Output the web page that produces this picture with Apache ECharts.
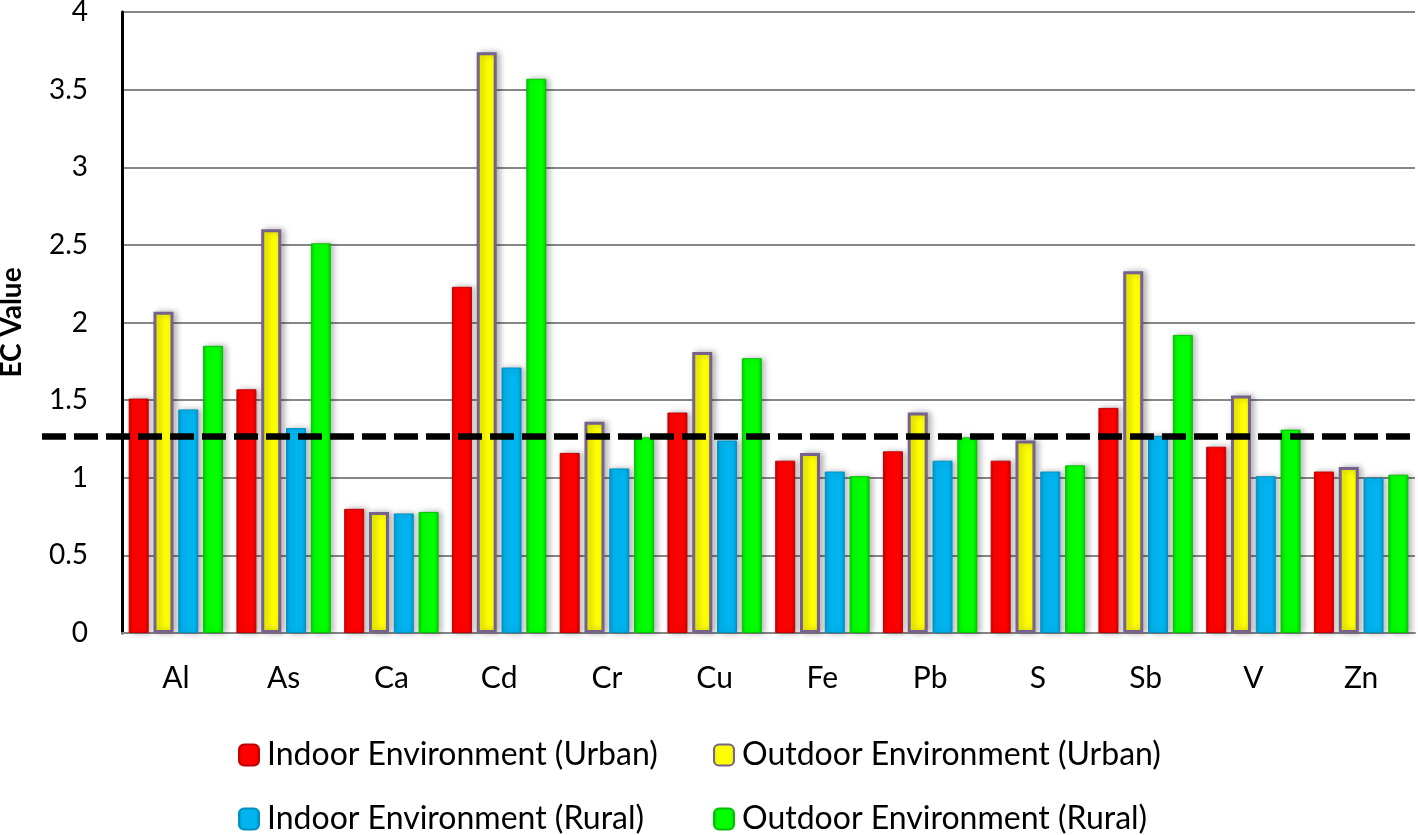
<!DOCTYPE html>
<html>
<head>
<meta charset="utf-8">
<script src="https://cdn.jsdelivr.net/npm/echarts@6/dist/echarts.min.js"></script>
<style>
html,body{margin:0;padding:0;background:#fff;}
#chart{width:1418px;height:835px;}
</style>
</head>
<body>
<div id="chart"></div>
<script>
const categories = ['Al','As','Ca','Cd','Cr','Cu','Fe','Pb','S','Sb','V','Zn'];
const indoorUrban  = [1.51, 1.57, 0.80, 2.23, 1.16, 1.42, 1.11, 1.17, 1.11, 1.45, 1.20, 1.04];
const outdoorUrban = [2.07, 2.60, 0.78, 3.74, 1.36, 1.81, 1.16, 1.42, 1.24, 2.33, 1.53, 1.07];
const indoorRural  = [1.44, 1.32, 0.77, 1.71, 1.06, 1.24, 1.04, 1.11, 1.04, 1.27, 1.01, 1.00];
const outdoorRural = [1.85, 2.51, 0.78, 3.57, 1.26, 1.77, 1.01, 1.26, 1.08, 1.92, 1.31, 1.02];
const threshold = 1.27;
const seriesNames = ['Indoor Environment (Urban)','Outdoor Environment (Urban)','Indoor Environment (Rural)','Outdoor Environment (Rural)'];
const yTicks = {min: 0, max: 4, interval: 0.5};

const FONT = 'Lato';
function grad(edge, mid) {
  return new echarts.graphic.LinearGradient(0, 0, 1, 0, [
    {offset: 0, color: edge}, {offset: 0.2, color: mid},
    {offset: 0.8, color: mid}, {offset: 1, color: edge}
  ]);
}
const styles = [
  {color: grad('#d00000', '#ff0000'), borderColor: '#c00000', borderWidth: 1},
  {color: grad('#e8e800', '#ffff00'), borderColor: '#76628c', borderWidth: 3},
  {color: grad('#0096d0', '#00b4f0'), borderColor: '#0090c0', borderWidth: 1},
  {color: grad('#00d000', '#00ff00'), borderColor: '#00c000', borderWidth: 1}
];
const datas = [indoorUrban, outdoorUrban, indoorRural, outdoorRural];

const chart = echarts.init(document.getElementById('chart'), null, {renderer: 'canvas'});
const series = datas.map((d, i) => ({
  name: seriesNames[i],
  type: 'bar',
  data: d,
  barWidth: 20,
  barGap: '24%',
  itemStyle: Object.assign({
    shadowColor: 'rgba(0,0,0,0.28)', shadowBlur: 6, shadowOffsetX: 3, shadowOffsetY: 0
  }, styles[i]),
  emphasis: {disabled: true}
}));
series[3].markLine = {
  silent: true,
  symbol: ['none', 'none'],
  label: {show: false},
  lineStyle: {color: '#000', width: 6.5, type: [24, 8]},
  data: [[{x: 42, yAxis: threshold}, {x: 1418, yAxis: threshold}]]
};

const legendCommon = {
  orient: 'vertical', top: 739, height: 140, padding: 0,
  itemWidth: 20, itemHeight: 21, itemGap: 32,
  textStyle: {fontFamily: FONT, fontSize: 32, color: '#000', lineHeight: 32, padding: [0, 0, 0, 3]},
  selectedMode: false
};

chart.setOption({
  animation: false,
  backgroundColor: '#fff',
  textStyle: {fontFamily: FONT},
  grid: {left: 122, right: 3, top: 12, bottom: 202, containLabel: false, outerBoundsMode: 'none'},
  legend: [
    Object.assign({data: [seriesNames[0], seriesNames[2]], left: 238}, legendCommon),
    Object.assign({data: [seriesNames[1], seriesNames[3]], left: 713}, legendCommon)
  ],
  xAxis: {
    type: 'category',
    data: categories,
    axisLine: {lineStyle: {color: '#868686', width: 2}},
    axisTick: {show: false},
    axisLabel: {fontFamily: FONT, fontSize: 30, color: '#000', margin: 30}
  },
  yAxis: {
    type: 'value',
    min: yTicks.min, max: yTicks.max, interval: yTicks.interval,
    name: 'EC Value',
    nameLocation: 'middle',
    nameRotate: 90,
    nameGap: 96,
    nameMoveOverlap: false,
    nameTextStyle: {fontFamily: FONT, fontSize: 28, fontWeight: 'bold', color: '#000'},
    axisLine: {show: true, lineStyle: {color: '#000', width: 3}},
    axisTick: {show: false},
    axisLabel: {fontFamily: FONT, fontSize: 28, color: '#000', margin: 34},
    splitLine: {lineStyle: {color: '#868686', width: 2}}
  },
  series: series
});
</script>
</body>
</html>
